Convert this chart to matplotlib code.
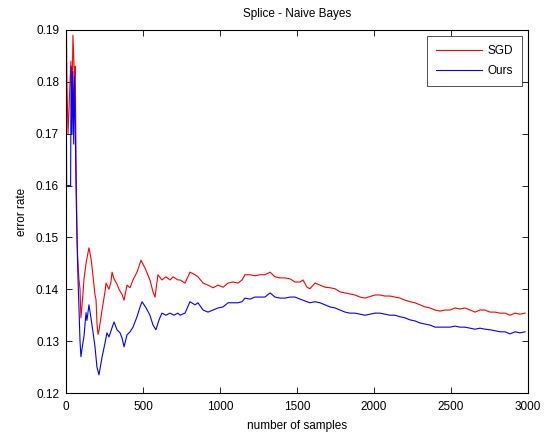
import matplotlib
matplotlib.use("Agg")
import matplotlib.pyplot as plt

sgd_x = [0, 6, 13, 20, 26, 32, 39, 45, 50, 55, 60, 65, 68, 71, 75, 78, 84, 91, 97, 104,
         110, 117, 130, 149, 162, 169, 188, 195, 201, 208, 214, 234, 253, 260, 279, 292,
         299, 312, 331, 344, 364, 377, 396, 416, 435, 461, 487, 513, 545, 565, 578, 597,
         623, 649, 675, 695, 727, 740, 773, 805, 838, 857, 890, 922, 955, 987, 1020, 1052,
         1084, 1117, 1143, 1162, 1195, 1227, 1260, 1292, 1325, 1357, 1390, 1422, 1455,
         1487, 1520, 1539, 1565, 1584, 1617, 1649, 1682, 1714, 1747, 1779, 1812, 1844,
         1877, 1909, 1942, 1974, 2006, 2039, 2071, 2104, 2136, 2169, 2201, 2234, 2266,
         2299, 2331, 2364, 2396, 2429, 2461, 2494, 2526, 2558, 2591, 2624, 2656, 2688,
         2721, 2753, 2786, 2818, 2851, 2883, 2916, 2948, 2981]
sgd_y = [0.200, 0.180, 0.170, 0.175, 0.180, 0.184, 0.175, 0.189, 0.185, 0.181, 0.183, 0.165,
         0.158, 0.152, 0.147, 0.145, 0.142, 0.140, 0.1345, 0.137, 0.139, 0.142, 0.145,
         0.148, 0.146, 0.1443, 0.139, 0.138, 0.1335, 0.1313, 0.132, 0.136, 0.1395, 0.1412,
         0.140, 0.1414, 0.1433, 0.1420, 0.141, 0.140, 0.139, 0.1379, 0.1408, 0.1403,
         0.1418, 0.1433, 0.1456, 0.1441, 0.1418, 0.1395, 0.1385, 0.1428, 0.1418, 0.1424,
         0.1418, 0.1424, 0.1418, 0.1418, 0.1412, 0.1433, 0.1428, 0.1424, 0.1412, 0.1408,
         0.1403, 0.1408, 0.1404, 0.1412, 0.1414, 0.1412, 0.1418, 0.1428, 0.1428, 0.1426,
         0.1428, 0.1428, 0.1433, 0.1424, 0.1422, 0.1422, 0.1420, 0.1414, 0.1414, 0.1418,
         0.1404, 0.1401, 0.1412, 0.1408, 0.1404, 0.1403, 0.1401, 0.1395, 0.1393, 0.1391,
         0.1389, 0.1385, 0.1383, 0.1386, 0.1389, 0.1389, 0.1387, 0.1387, 0.1385, 0.1383,
         0.1379, 0.1376, 0.1374, 0.1370, 0.1366, 0.1364, 0.1360, 0.1358, 0.1360, 0.1360,
         0.1364, 0.1362, 0.1364, 0.1360, 0.1356, 0.1360, 0.1360, 0.1356, 0.1356, 0.1354,
         0.1354, 0.1350, 0.1354, 0.1352, 0.1354]

ours_x = [0, 4, 30, 33, 39, 45, 50, 55, 60, 65, 71, 78, 84, 91, 97, 104, 117, 130, 136,
          149, 162, 175, 188, 201, 214, 234, 253, 266, 279, 299, 312, 331, 351, 364, 377,
          396, 416, 435, 461, 481, 494, 520, 545, 565, 584, 604, 623, 649, 675, 701, 727,
          740, 773, 805, 838, 857, 890, 922, 955, 987, 1020, 1052, 1084, 1117, 1143, 1162,
          1195, 1227, 1260, 1292, 1325, 1357, 1390, 1422, 1455, 1487, 1520, 1539, 1565,
          1584, 1617, 1649, 1682, 1714, 1747, 1779, 1812, 1844, 1877, 1909, 1942, 1974,
          2006, 2039, 2071, 2104, 2136, 2169, 2201, 2234, 2266, 2299, 2331, 2364, 2396,
          2429, 2461, 2494, 2526, 2558, 2591, 2624, 2656, 2688, 2721, 2753, 2786, 2818,
          2851, 2883, 2916, 2948, 2981]
ours_y = [0.195, 0.160, 0.160, 0.183, 0.170, 0.182, 0.168, 0.181, 0.172, 0.160, 0.150,
          0.142, 0.1366, 0.130, 0.127, 0.1285, 0.131, 0.1355, 0.134, 0.137, 0.1345,
          0.1318, 0.129, 0.125, 0.1235, 0.1269, 0.1296, 0.1316, 0.1308, 0.1326, 0.1337,
          0.1322, 0.1316, 0.1306, 0.1289, 0.1312, 0.1318, 0.1327, 0.1347, 0.1366, 0.1376,
          0.1364, 0.1350, 0.1331, 0.1322, 0.1341, 0.1354, 0.1350, 0.1354, 0.1350, 0.1354,
          0.1350, 0.1354, 0.1376, 0.1370, 0.1374, 0.1360, 0.1356, 0.1360, 0.1364, 0.1366,
          0.1374, 0.1374, 0.1374, 0.1376, 0.1383, 0.1381, 0.1385, 0.1385, 0.1385, 0.1393,
          0.1385, 0.1383, 0.1383, 0.1385, 0.1385, 0.1381, 0.1379, 0.1376, 0.1374, 0.1376,
          0.1374, 0.1370, 0.1366, 0.1364, 0.1360, 0.1356, 0.1354, 0.1354, 0.1352, 0.1350,
          0.1352, 0.1354, 0.1354, 0.1352, 0.1350, 0.1350, 0.1347, 0.1345, 0.1341, 0.1339,
          0.1335, 0.1333, 0.1331, 0.1327, 0.1327, 0.1327, 0.1327, 0.1329, 0.1327, 0.1327,
          0.1325, 0.1323, 0.1325, 0.1323, 0.1322, 0.1320, 0.1318, 0.1318, 0.1314, 0.1318,
          0.1316, 0.1318]

x_ticks = [0, 500, 1000, 1500, 2000, 2500, 3000]
y_ticks = [0.12, 0.13, 0.14, 0.15, 0.16, 0.17, 0.18, 0.19]
y_tick_labels = ["0.12", "0.13", "0.14", "0.15", "0.16", "0.17", "0.18", "0.19"]

plt.rcParams['font.family'] = ['Liberation Sans', 'DejaVu Sans']

fig = plt.figure(figsize=(5.52, 4.38), dpi=100)
ax = fig.add_axes([66/552, 1 - 393/438, 462/552, 363/438])

ax.plot(sgd_x, sgd_y, color=(1, 0, 0), lw=0.8, label='SGD')
ax.plot(ours_x, ours_y, color=(0, 0, 1), lw=0.8, label='Ours')

ax.set_xlim(0, 3000)
ax.set_ylim(0.12, 0.19)
ax.set_xticks(x_ticks)
ax.set_yticks(y_ticks)
ax.set_yticklabels(y_tick_labels)
ax.tick_params(direction='in', top=True, right=True, labelsize=8.5, length=4, width=0.6)
ax.tick_params(axis='x', pad=6)
ax.tick_params(axis='y', pad=5)
for s in ax.spines.values():
    s.set_linewidth(0.8)

ax.set_title('Splice - Naive Bayes', fontsize=8.5, pad=9)
ax.set_xlabel('number of samples', fontsize=8.5, labelpad=5)
ax.set_ylabel('error rate', fontsize=8.5, labelpad=6)

leg = ax.legend(loc='upper right', fontsize=8.5, frameon=True, fancybox=False,
                edgecolor='black', borderaxespad=0.55, handlelength=3.9,
                handletextpad=0.5, borderpad=0.72, labelspacing=0.7)
leg.get_frame().set_linewidth(0.6)

fig.savefig('out.png', dpi=100)
